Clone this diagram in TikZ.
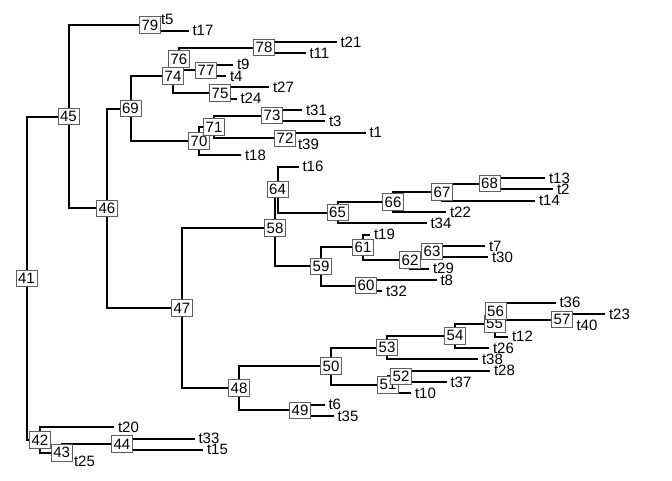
\documentclass[tikz,border=0pt]{standalone}
\usepackage{fontspec}
\setmainfont{Liberation Sans}
\usepackage{tikz}
\definecolor{boxgray}{RGB}{95,95,95}
\tikzset{
  edge/.style={line width=2pt},
  nodelab/.style={draw=boxgray, fill=white, line width=0.9pt, inner sep=0pt,
    minimum width=21pt, minimum height=16.5pt, font=\fontsize{15}{15}\selectfont},
  tiplab/.style={anchor=west, inner sep=0pt, xshift=3.8pt, font=\fontsize{15}{15}\selectfont}
}

\begin{document}
\begin{tikzpicture}[x=1pt, y=-1pt]
\useasboundingbox (0,0) rectangle (672,480);
\foreach \t/\x/\i in {t5/157/0, t17/188.5/1, t21/336.5/2, t11/305.5/3, t9/233/4, t4/226/5,
    t27/269/6, t24/236.5/7, t31/302/8, t3/325/9, t1/365.5/10, t39/294/11, t18/241/12,
    t16/298.5/13, t13/545/14, t2/553/15, t14/535/16, t22/446/17, t34/426.5/18,
    t19/370/19, t7/485/20, t30/488/21, t29/429/22, t8/436.5/23, t32/382/24,
    t36/555.5/25, t23/605/26, t40/572.5/27, t12/508/28, t26/489/29, t38/478/30,
    t28/490/31, t37/446.5/32, t10/411/33, t6/324.5/34, t35/333.5/35,
    t20/114/36, t33/194.5/37, t15/203/38, t25/70/39} {
  \coordinate (\t) at (\x, {19.3+11.33*\i});
}
\foreach \n/\x/\y in {41/26.5/278.3, 42/40/439.95, 43/61.7/452.7, 44/122/444.15,
    45/68.5/116.6, 46/107/208.3, 47/182/308.1, 48/239/388.15, 49/300/410.2,
    50/331/366.1, 51/388/384.7, 52/401/376.2, 53/387/347.5, 54/455/335.85,
    55/494.5/323.8, 56/495.5/311.1, 57/562/319.55, 58/275/228.0, 59/321/266.45,
    60/366/285.55, 61/363/247.35, 62/410/260.1, 63/432/251.55, 64/277.5/189.6,
    65/337.5/212.6, 66/393/202.0, 67/442/192.1, 68/489.5/183.6, 69/130.5/108.5,
    70/199/141.1, 71/214/126.9, 72/285/138.25, 73/272/115.6, 74/173/75.95,
    75/220/92.95, 76/179/58.95, 77/206/70.25, 78/264/47.65, 79/150/24.95} {
  \coordinate (n\n) at (\x,\y);
}
\foreach \p/\c in {n41/n45, n41/n42, n42/t20, n42/n43, n43/n44, n43/t25, n44/t33, n44/t15,
    n45/n79, n45/n46, n79/t5, n79/t17, n46/n69, n46/n47, n69/n74, n69/n70,
    n74/n76, n74/n75, n76/n78, n76/n77, n78/t21, n78/t11, n77/t9, n77/t4,
    n75/t27, n75/t24, n70/n71, n70/t18, n71/n73, n71/n72, n73/t31, n73/t3,
    n72/t1, n72/t39, n47/n58, n47/n48, n58/n64, n58/n59, n64/t16, n64/n65,
    n65/n66, n65/t34, n66/n67, n66/t22, n67/n68, n67/t14, n68/t13, n68/t2,
    n59/n61, n59/n60, n61/t19, n61/n62, n62/n63, n62/t29, n63/t7, n63/t30,
    n60/t8, n60/t32, n48/n50, n48/n49, n50/n53, n50/n51, n53/n54, n53/t38,
    n54/n55, n54/t26, n55/n56, n55/t12, n56/t36, n56/n57, n57/t23, n57/t40,
    n51/n52, n51/t10, n52/t28, n52/t37, n49/t6, n49/t35} {
  \draw[edge] (\p) |- (\c);
}
\foreach \t in {t5, t17, t21, t11, t9, t4, t27, t24, t31, t3, t1, t39, t18, t16, t13, t2,
    t14, t22, t34, t19, t7, t30, t29, t8, t32, t36, t23, t40, t12, t26, t38, t28,
    t37, t10, t6, t35, t20, t33, t15, t25} {
  \node[tiplab] (l\t) at (\t) {\t};
}
\foreach \n in {41,...,79} {
  \node[nodelab] (b\n) at (n\n) {\n};
}
\end{tikzpicture}
\end{document}
